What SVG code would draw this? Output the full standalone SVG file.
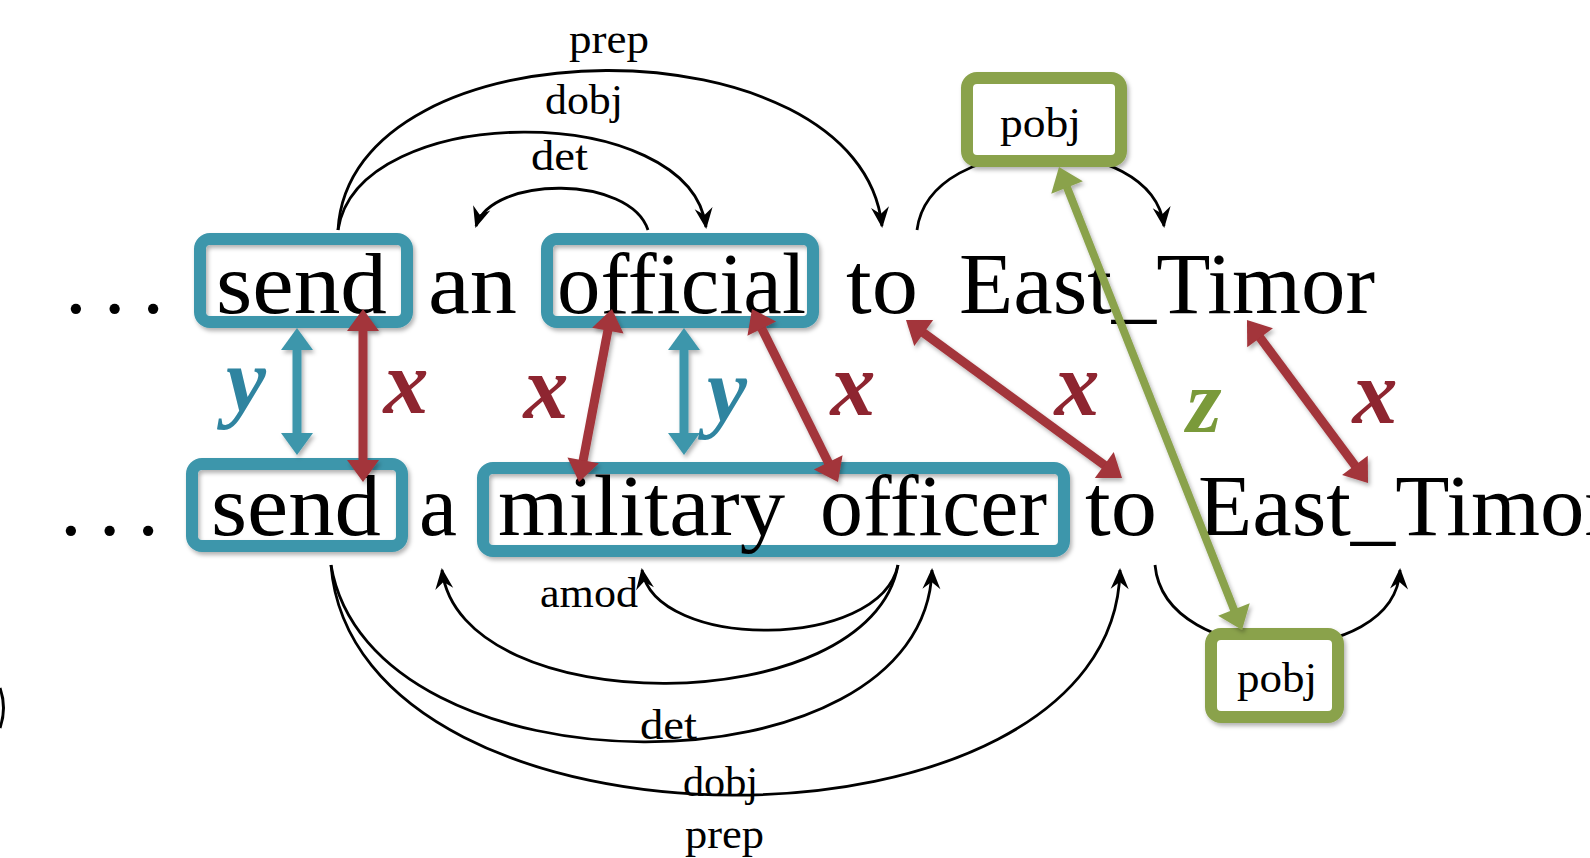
<svg xmlns="http://www.w3.org/2000/svg" width="1590" height="858" viewBox="0 0 1590 858">
<style>
.w{font-family:"Liberation Serif","Times New Roman",serif;font-size:87px;fill:#000}
.l{font-family:"Liberation Serif","Times New Roman",serif;font-size:43px;fill:#000}
.v{font-family:"Liberation Serif","Times New Roman",serif;font-size:90px;font-weight:bold;font-style:italic;text-anchor:middle}
.arc{fill:none;stroke:#000;stroke-width:2.8;marker-end:url(#ah)}
.bt{fill:none;stroke:#3d96ab;stroke-width:12}
.bg{fill:#fff;stroke:#8aa24b;stroke-width:12}
.ar{stroke:#a3343a;stroke-width:9;marker-start:url(#hr);marker-end:url(#hr)}
.ab{stroke:#3d96ab;stroke-width:9;marker-start:url(#hb);marker-end:url(#hb)}
.ag{stroke:#8aa24b;stroke-width:8;marker-start:url(#hg);marker-end:url(#hg)}
</style>
<defs>
<filter id="sh" x="-10%" y="-10%" width="120%" height="130%">
<feDropShadow dx="2" dy="3" stdDeviation="2" flood-color="#000" flood-opacity="0.3"/>
</filter>
<marker id="ah" markerUnits="userSpaceOnUse" viewBox="-22 -11 25 22" markerWidth="25" markerHeight="22" refX="-1" refY="0" orient="auto">
<path d="M1,0 L-20,-9 L-13,0 L-20,9 Z" fill="#000"/>
</marker>
<marker id="hr" markerUnits="userSpaceOnUse" viewBox="-1 -17 25 34" markerWidth="25" markerHeight="34" refX="4" refY="0" orient="auto-start-reverse">
<path d="M0,-16 L22,0 L0,16 Z" fill="#a3343a"/>
</marker>
<marker id="hb" markerUnits="userSpaceOnUse" viewBox="-1 -17 25 34" markerWidth="25" markerHeight="34" refX="4" refY="0" orient="auto-start-reverse">
<path d="M0,-16 L22,0 L0,16 Z" fill="#3d96ab"/>
</marker>
<marker id="hg" markerUnits="userSpaceOnUse" viewBox="-1 -18 25 36" markerWidth="25" markerHeight="36" refX="4" refY="0" orient="auto-start-reverse">
<path d="M0,-17 L22,0 L0,17 Z" fill="#8aa24b"/>
</marker>
</defs>

<rect x="0" y="0" width="1590" height="858" fill="#fff"/>
<path d="M0,688 Q7,708 0,728" fill="none" stroke="#000" stroke-width="3"/>

<g id="connectors">
<path class="arc" d="M338,230 C350,18 860,18 882,226"/>
<path class="arc" d="M338,230 C358,100 690,100 706,227"/>
<path class="arc" d="M648,230 C630,175 492,175 476,226"/>
<path class="arc" d="M917,230 C930,129 1152,129 1164,226"/>
<path class="arc" d="M898,565 C880,651 655,651 642,570"/>
<path class="arc" d="M898,565 C870,722 460,722 442,570"/>
<path class="arc" d="M331,565 C370,800 925,800 932,570"/>
<path class="arc" d="M331,565 C355,871 1115,871 1120,570"/>
<path class="arc" d="M1155,565 C1165,671 1395,671 1400,570"/>
</g>

<g id="labels">
<text class="l" x="569" y="53" textLength="80" lengthAdjust="spacingAndGlyphs">prep</text>
<text class="l" x="545" y="114" textLength="78" lengthAdjust="spacingAndGlyphs">dobj</text>
<text class="l" x="531" y="170" textLength="57" lengthAdjust="spacingAndGlyphs">det</text>
<text class="l" x="540" y="607" textLength="98" lengthAdjust="spacingAndGlyphs">amod</text>
<text class="l" x="640" y="739" textLength="57" lengthAdjust="spacingAndGlyphs">det</text>
<text class="l" x="683" y="796" textLength="75" lengthAdjust="spacingAndGlyphs">dobj</text>
<text class="l" x="685" y="848" textLength="79" lengthAdjust="spacingAndGlyphs">prep</text>
</g>

<g id="node-send-top"><rect class="bt" x="200" y="239" width="207" height="83" rx="10" filter="url(#sh)"/>
<text class="w" x="216" y="313" textLength="171" lengthAdjust="spacingAndGlyphs">send</text></g>
<g id="node-official"><rect class="bt" x="547" y="239" width="266" height="83" rx="10" filter="url(#sh)"/>
<text class="w" x="557" y="313" textLength="249" lengthAdjust="spacingAndGlyphs">official</text></g>
<g id="top-words">
<text class="w" x="65" y="313" textLength="99" lengthAdjust="spacing">. . .</text>
<text class="w" x="428" y="313" textLength="89" lengthAdjust="spacingAndGlyphs">an</text>
<text class="w" x="846" y="313" textLength="72" lengthAdjust="spacingAndGlyphs">to</text>
<text class="w" x="959" y="313" textLength="416" lengthAdjust="spacingAndGlyphs">East_Timor</text>
</g>

<g id="node-send-bottom"><rect class="bt" x="192" y="464" width="210" height="82" rx="10" filter="url(#sh)"/>
<text class="w" x="211" y="535" textLength="170" lengthAdjust="spacingAndGlyphs">send</text></g>
<g id="node-military-officer"><rect class="bt" x="483" y="468" width="581" height="83" rx="10" filter="url(#sh)"/>
<text class="w" x="498" y="535" textLength="287" lengthAdjust="spacingAndGlyphs">military</text>
<text class="w" x="820" y="535" textLength="227" lengthAdjust="spacingAndGlyphs">officer</text></g>
<g id="bottom-words">
<text class="w" x="60" y="535" textLength="99" lengthAdjust="spacing">. . .</text>
<text class="w" x="419" y="535" textLength="38" lengthAdjust="spacingAndGlyphs">a</text>
<text class="w" x="1085" y="535" textLength="72" lengthAdjust="spacingAndGlyphs">to</text>
<text class="w" x="1198" y="535" textLength="416" lengthAdjust="spacingAndGlyphs">East_Timor</text>
</g>

<g id="node-pobj-top"><rect class="bg" x="967" y="78" width="154" height="83" rx="10" filter="url(#sh)"/>
<text class="l" x="1000" y="137" textLength="81" lengthAdjust="spacingAndGlyphs">pobj</text></g>
<g id="node-pobj-bottom"><rect class="bg" x="1211" y="634" width="127" height="83" rx="10" filter="url(#sh)"/>
<text class="l" x="1237" y="692" textLength="80" lengthAdjust="spacingAndGlyphs">pobj</text></g>

<g id="alignments" filter="url(#sh)">
<line class="ab" x1="297" y1="346" x2="297" y2="437"/>
<line class="ab" x1="684" y1="346" x2="684" y2="437"/>
<line class="ar" x1="363" y1="327" x2="363" y2="464"/>
<line class="ar" x1="608.6" y1="326.7" x2="582.4" y2="464.3"/>
<line class="ar" x1="760" y1="325.1" x2="830" y2="465.9"/>
<line class="ar" x1="920.5" y1="330.6" x2="1107.5" y2="467.4"/>
<line class="ar" x1="1257.7" y1="334.5" x2="1357.3" y2="468.6"/>
<line class="ag" x1="1065.6" y1="183.7" x2="1235.4" y2="613.3"/>
</g>

<g id="alignment-labels">
<text class="v" x="246" y="411" fill="#2f84a0">y</text>
<text class="v" x="406" y="413" fill="#8e2530">x</text>
<text class="v" x="546" y="418" fill="#8e2530">x</text>
<text class="v" x="727" y="421" fill="#2f84a0">y</text>
<text class="v" x="853" y="415" fill="#8e2530">x</text>
<text class="v" x="1077" y="415" fill="#8e2530">x</text>
<text class="v" x="1204" y="432" fill="#7a9a3a">z</text>
<text class="v" x="1375" y="423" fill="#8e2530">x</text>
</g>
</svg>
